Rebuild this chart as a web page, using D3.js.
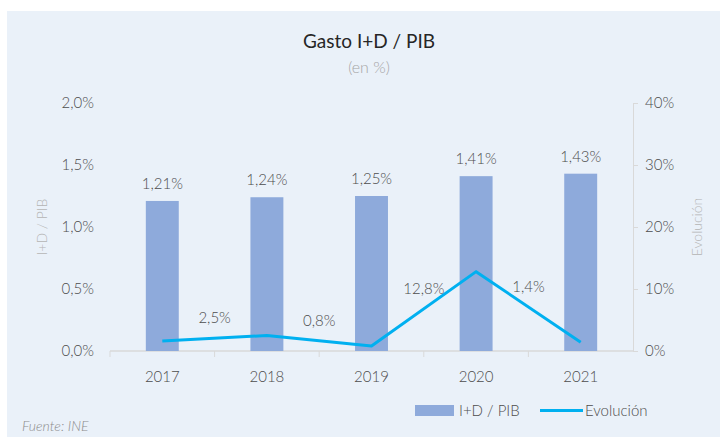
<!DOCTYPE html>
<html>
<head>
<meta charset="utf-8">
<script src="https://cdn.jsdelivr.net/npm/d3@7"></script>
<style>
  body { margin: 0; background: #fff; }
  svg { font-family: Lato, "Open Sans", sans-serif; display: block; }
</style>
</head>
<body>
<div id="chart"></div>
<script>
// data
const years = ["2017", "2018", "2019", "2020", "2021"];
const gastoPib = [1.21, 1.24, 1.25, 1.41, 1.43];
const evolucion = [1.6, 2.5, 0.8, 12.8, 1.4];
const evolucionLabels = [null, "2,5%", "0,8%", "12,8%", "1,4%"];
const leftTicks = [0, 0.5, 1, 1.5, 2];
const rightTicks = [0, 10, 20, 30, 40];

const width = 722, height = 437;
const margin = { top: 103, right: 89, bottom: 86, left: 110 };
const innerW = width - margin.left - margin.right;
const innerH = height - margin.top - margin.bottom;

const txtColor = "#4d4d4d";
const fmt = (v, d) => v.toFixed(d).replace(".", ",") + "%";

const svg = d3.select("#chart")
    .append("svg")
    .attr("width", width)
    .attr("height", height);

// panel background
svg.append("rect")
    .attr("x", 7).attr("y", 11)
    .attr("width", width - 9).attr("height", height - 11)
    .attr("fill", "#eaf1f9");

// titles
svg.append("text")
    .attr("x", 369).attr("y", 48)
    .attr("text-anchor", "middle")
    .attr("font-size", 19)
    .attr("fill", "#262626")
    .text("Gasto I+D / PIB");
svg.append("text")
    .attr("x", 369).attr("y", 73)
    .attr("text-anchor", "middle")
    .attr("font-size", 16)
    .attr("font-weight", 300)
    .attr("fill", "#a6a6a6")
    .text("(en %)");

const g = svg.append("g")
    .attr("transform", `translate(${margin.left},${margin.top})`);

// scales
const x = d3.scaleBand().domain(years).range([0, innerW]);
const yL = d3.scaleLinear().domain([0, 2]).range([innerH, 0]);
const yR = d3.scaleLinear().domain([0, 40]).range([innerH, 0]);
const barW = x.bandwidth() * 0.315;

// left axis labels
g.selectAll(".ltick")
    .data(leftTicks)
    .join("text")
    .attr("class", "ltick")
    .attr("x", -16)
    .attr("y", d => yL(d))
    .attr("dy", "0.35em")
    .attr("text-anchor", "end")
    .attr("font-size", 15)
    .attr("font-weight", 300)
    .attr("fill", txtColor)
    .text(d => fmt(d, 1));

// right axis
const rAxis = g.append("g")
    .attr("transform", `translate(${innerW},0)`)
    .call(d3.axisRight(yR).tickValues(rightTicks).tickSize(5).tickPadding(7).tickFormat(d => d + "%"));
rAxis.select(".domain").attr("stroke", "#d9d9d9");
rAxis.selectAll(".tick line").attr("stroke", "#d9d9d9");
rAxis.selectAll("text")
    .attr("font-size", 15).attr("font-weight", 300)
    .attr("fill", txtColor).attr("font-family", "Lato, sans-serif");

// axis titles
svg.append("text")
    .attr("transform", `translate(47,${margin.top + innerH / 2}) rotate(-90)`)
    .attr("text-anchor", "middle")
    .attr("font-size", 14)
    .attr("font-weight", 300)
    .attr("fill", "#b4b4b4")
    .text("I+D / PIB");
svg.append("text")
    .attr("transform", `translate(702,${margin.top + innerH / 2}) rotate(-90)`)
    .attr("text-anchor", "middle")
    .attr("font-size", 14)
    .attr("font-weight", 300)
    .attr("fill", "#b4b4b4")
    .text("Evolución");

// bottom axis
g.append("line")
    .attr("x1", 0).attr("x2", innerW)
    .attr("y1", innerH).attr("y2", innerH)
    .attr("stroke", "#d9d9d9").attr("stroke-width", 1.5);
g.selectAll(".xtick")
    .data(years)
    .join("line")
    .attr("class", "xtick")
    .attr("x1", d => x(d)).attr("x2", d => x(d))
    .attr("y1", innerH).attr("y2", innerH + 6)
    .attr("stroke", "#d9d9d9");
g.selectAll(".xlabel")
    .data(years)
    .join("text")
    .attr("class", "xlabel")
    .attr("x", d => x(d) + x.bandwidth() / 2)
    .attr("y", innerH + 31)
    .attr("text-anchor", "middle")
    .attr("font-size", 15)
    .attr("font-weight", 300)
    .attr("fill", txtColor)
    .text(d => d);

// bars
g.selectAll(".bar")
    .data(gastoPib)
    .join("rect")
    .attr("class", "bar")
    .attr("x", (d, i) => x(years[i]) + (x.bandwidth() - barW) / 2)
    .attr("y", d => yL(d))
    .attr("width", barW)
    .attr("height", d => innerH - yL(d))
    .attr("fill", "#8eaadb");
g.selectAll(".barlabel")
    .data(gastoPib)
    .join("text")
    .attr("class", "barlabel")
    .attr("x", (d, i) => x(years[i]) + x.bandwidth() / 2)
    .attr("y", d => yL(d) - 12)
    .attr("text-anchor", "middle")
    .attr("font-size", 15)
    .attr("font-weight", 300)
    .attr("fill", txtColor)
    .text(d => fmt(d, 2));

// line
const pts = evolucion.map((v, i) => [x(years[i]) + x.bandwidth() / 2, yR(v)]);
g.append("path")
    .attr("d", d3.line()(pts))
    .attr("fill", "none")
    .attr("stroke", "#00b0f0")
    .attr("stroke-width", 3)
    .attr("stroke-linejoin", "round");
g.selectAll(".linelabel")
    .data(evolucionLabels.map((t, i) => ({ t, i })).filter(d => d.t))
    .join("text")
    .attr("class", "linelabel")
    .attr("x", d => x(years[d.i]))
    .attr("y", d => (pts[d.i - 1][1] + pts[d.i][1]) / 2 - 15)
    .attr("text-anchor", "middle")
    .attr("font-size", 15)
    .attr("font-weight", 300)
    .attr("fill", txtColor)
    .text(d => d.t);

// legend
svg.append("rect")
    .attr("x", 415).attr("y", 405)
    .attr("width", 39).attr("height", 11)
    .attr("fill", "#8eaadb");
svg.append("text")
    .attr("x", 459).attr("y", 416)
    .attr("font-size", 15)
    .attr("font-weight", 300)
    .attr("fill", txtColor)
    .text("I+D / PIB");
svg.append("line")
    .attr("x1", 540).attr("x2", 583)
    .attr("y1", 410.5).attr("y2", 410.5)
    .attr("stroke", "#00b0f0").attr("stroke-width", 3);
svg.append("text")
    .attr("x", 585).attr("y", 416)
    .attr("font-size", 15)
    .attr("font-weight", 300)
    .attr("fill", txtColor)
    .text("Evolución");

// source
svg.append("text")
    .attr("x", 22).attr("y", 431)
    .attr("font-size", 14)
    .attr("font-style", "italic")
    .attr("font-weight", 300)
    .attr("fill", "#8c8c8c")
    .text("Fuente: INE");
</script>
</body>
</html>
